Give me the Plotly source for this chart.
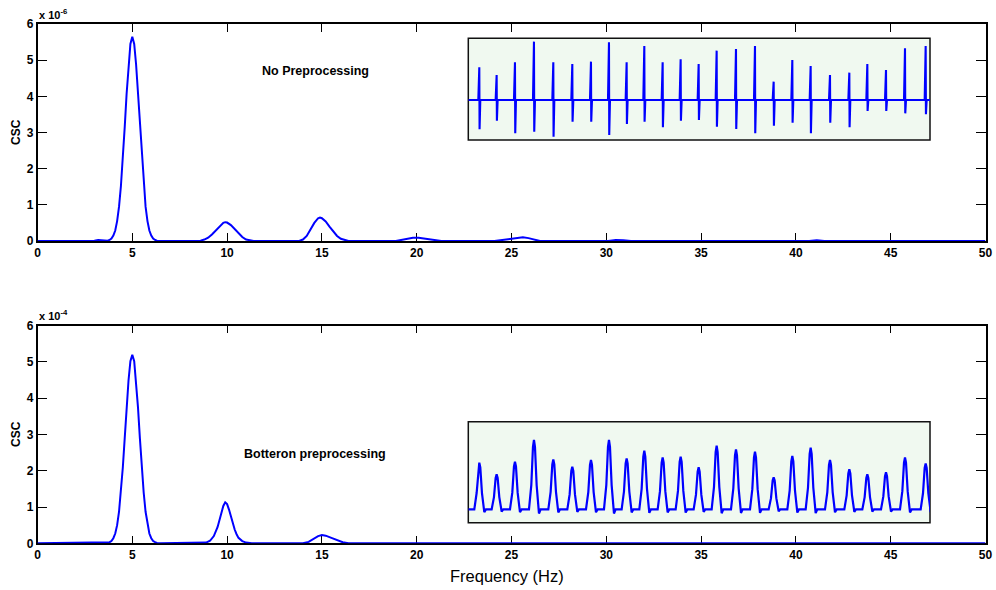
import plotly.graph_objects as go

# ---------------- data ----------------
# Top panel: CSC spectrum, no preprocessing (units of 1e-6)
freq_top = [0, 2.8, 3.0, 3.2, 3.4, 3.6, 3.7, 3.8, 3.9, 4.0, 4.1, 4.2, 4.3, 4.4, 4.5, 4.6, 4.7, 4.8, 4.9,
            5.0, 5.1, 5.2, 5.3, 5.4, 5.5, 5.6, 5.7, 5.8, 5.9, 6.0, 6.1, 6.2, 6.3, 6.5,
            8.4, 8.6, 8.8, 9.0, 9.2, 9.4, 9.6, 9.8, 9.9, 10.0, 10.2, 10.4, 10.6, 10.8, 11.0, 11.2, 11.4,
            13.8, 14.0, 14.2, 14.4, 14.6, 14.8, 14.9, 15.0, 15.2, 15.4, 15.6, 15.8, 16.0, 16.2, 16.4,
            18.9, 19.2, 19.5, 19.8, 20.1, 20.4, 20.7, 21.0, 21.3,
            24.1, 24.5, 24.9, 25.3, 25.6, 25.9, 26.2, 26.5,
            30.1, 30.5, 30.9, 31.3,
            40.7, 41.1, 41.5, 50]
csc_top = [0, 0, 0.01, 0.03, 0.02, 0.0, 0.01, 0.03, 0.07, 0.15, 0.29, 0.55, 0.95, 1.52, 2.27, 3.15, 4.07, 4.88, 5.45,
           5.65, 5.45, 4.88, 4.07, 3.15, 2.27, 1.52, 0.95, 0.55, 0.29, 0.15, 0.07, 0.03, 0.01, 0,
           0, 0.01, 0.04, 0.09, 0.18, 0.29, 0.41, 0.50, 0.52, 0.51, 0.44, 0.33, 0.21, 0.11, 0.04, 0.01, 0,
           0, 0.04, 0.14, 0.32, 0.50, 0.63, 0.65, 0.63, 0.54, 0.40, 0.26, 0.14, 0.06, 0.02, 0,
           0, 0.03, 0.07, 0.09, 0.09, 0.07, 0.04, 0.02, 0,
           0, 0.03, 0.06, 0.09, 0.10, 0.08, 0.03, 0,
           0, 0.03, 0.02, 0,
           0, 0.02, 0, 0]

# Bottom panel: CSC spectrum, Botteron preprocessing (units of 1e-4)
freq_bot = [0, 3.7, 3.8, 3.9, 4.0, 4.1, 4.2, 4.3, 4.4, 4.5, 4.6, 4.7, 4.8, 4.9,
            5.0, 5.1, 5.2, 5.3, 5.4, 5.5, 5.6, 5.7, 5.8, 5.9, 6.0, 6.1, 6.2, 6.3, 6.5,
            8.7, 8.9, 9.1, 9.3, 9.5, 9.6, 9.7, 9.8, 9.9, 10.0, 10.1, 10.2, 10.3, 10.4, 10.5, 10.6, 10.8, 11.0, 11.3,
            14.0, 14.3, 14.6, 14.8, 15.0, 15.2, 15.5, 15.8, 16.1, 16.4, 50]
csc_bot = [0, 0.01, 0.03, 0.06, 0.14, 0.27, 0.50, 0.87, 1.40, 2.09, 2.90, 3.75, 4.49, 5.02,
           5.20, 5.02, 4.49, 3.75, 2.90, 2.09, 1.40, 0.87, 0.50, 0.27, 0.14, 0.06, 0.03, 0.01, 0,
           0, 0.02, 0.07, 0.20, 0.45, 0.64, 0.85, 1.03, 1.13, 1.08, 0.93, 0.74, 0.55, 0.38, 0.25, 0.15, 0.06, 0.02, 0,
           0, 0.04, 0.13, 0.20, 0.23, 0.21, 0.15, 0.08, 0.03, 0, 0]

# Inset (top): raw electrogram spikes — time, positive and negative deflections
spike_t = [0.58, 1.10, 1.65, 2.22, 2.80, 3.37, 3.93, 4.47, 5.00, 5.53, 6.08, 6.62, 7.16,
           7.70, 8.28, 8.85, 9.41, 9.97, 10.52, 11.10, 11.68, 12.22, 12.78, 13.35, 13.97]
spike_up = [0.98, 0.75, 1.13, 1.75, 1.13, 1.08, 1.15, 1.73, 1.13, 1.62, 1.13, 1.22, 1.08,
            1.48, 1.53, 1.62, 0.55, 1.20, 1.02, 0.75, 0.82, 1.08, 0.90, 1.55, 1.62]
spike_down = [-0.88, -0.62, -1.00, -0.95, -1.10, -0.65, -0.65, -1.05, -0.72, -0.65, -0.82, -0.62, -0.60,
              -0.80, -0.87, -1.00, -0.77, -0.68, -1.00, -0.68, -0.82, -0.33, -0.33, -0.40, -0.43]

# Inset (bottom): preprocessed signal peaks — time and height
peak_t = spike_t
peak_h = [1.40, 1.05, 1.43, 2.08, 1.50, 1.28, 1.48, 2.08, 1.53, 1.76, 1.56, 1.58, 1.26,
          1.91, 1.80, 1.73, 0.96, 1.60, 1.85, 1.48, 1.20, 1.05, 1.11, 1.56, 1.38]

x_ticks = list(range(0, 51, 5))
y_ticks = list(range(0, 7))

# ---------------- build inset traces ----------------
top_x, top_y = [0.25], [0.0]
for t, u, d in zip(spike_t, spike_up, spike_down):
    top_x += [t - 0.03, t, t + 0.008, t + 0.03]
    top_y += [0.0, u, d, 0.0]
top_x.append(14.10)
top_y.append(0.0)

bot_x, bot_y = [0.25], [0.0]
shape_dx = [-0.15, -0.08, -0.03, 0.0, 0.03, 0.08, 0.15, 0.2]
shape_f = [0.0, 0.35, 0.9, 1.0, 0.9, 0.35, -0.06, 0.0]
for t, h in zip(peak_t, peak_h):
    for dx, f in zip(shape_dx, shape_f):
        bot_x.append(t + dx)
        bot_y.append(h * f)
bot_x.append(14.10)
bot_y.append(0.0)

# ---------------- figure ----------------
W, H = 996, 590
def fx(p):
    return p / W
def fy(p):
    return 1 - p / H

BLUE = "rgb(0,0,255)"
FONT = "Liberation Sans, Arial, Helvetica, sans-serif"

fig = go.Figure()
fig.add_trace(go.Scatter(x=freq_top, y=csc_top, mode="lines", line=dict(color=BLUE, width=2),
                         xaxis="x", yaxis="y", showlegend=False, hoverinfo="skip"))
fig.add_trace(go.Scatter(x=freq_bot, y=csc_bot, mode="lines", line=dict(color=BLUE, width=2),
                         xaxis="x2", yaxis="y2", showlegend=False, hoverinfo="skip"))
fig.add_trace(go.Scatter(x=top_x, y=top_y, mode="lines", line=dict(color=BLUE, width=2.1),
                         xaxis="x3", yaxis="y3", showlegend=False, hoverinfo="skip"))
fig.add_trace(go.Scatter(x=bot_x, y=bot_y, mode="lines", line=dict(color=BLUE, width=2.2),
                         xaxis="x4", yaxis="y4", showlegend=False, hoverinfo="skip"))

xdom = [fx(37.5), fx(985.5)]
tickfont = dict(family=FONT, size=12, color="black", weight="bold")
xstyle = dict(range=[0, 50], tickvals=x_ticks, ticks="inside", ticklen=8, tickwidth=1.2,
              tickcolor="black", showline=True, linewidth=1.5, linecolor="black", mirror="ticks",
              showgrid=False, zeroline=False, tickfont=tickfont, layer="below traces", domain=xdom,
              automargin=False)
ystyle = dict(range=[0, 6], tickvals=y_ticks, ticks="inside", ticklen=10, tickwidth=1.2,
              tickcolor="black", showline=True, linewidth=1.5, linecolor="black", mirror="ticks",
              showgrid=False, zeroline=False, tickfont=tickfont, layer="below traces",
              automargin=False)

inset_top = [fx(468.3), fx(930), fy(140), fy(38.3)]
inset_bot = [fx(468.3), fx(930), fy(522.7), fy(421.7)]

ann_bold = dict(family=FONT, color="black", weight="bold")

fig.update_layout(
    width=W, height=H,
    margin=dict(l=0, r=0, t=0, b=0, pad=0, autoexpand=False),
    paper_bgcolor="white", plot_bgcolor="rgba(0,0,0,0)",
    xaxis=dict(xstyle, anchor="y"),
    yaxis=dict(ystyle, anchor="x", domain=[fy(241), fy(24)]),
    xaxis2=dict(xstyle, anchor="y2"),
    yaxis2=dict(ystyle, anchor="x2", domain=[fy(543.3), fy(325.7)]),
    xaxis3=dict(range=[0.25, 14.10], domain=inset_top[:2], visible=False, anchor="y3"),
    yaxis3=dict(range=[-1.2, 1.85], domain=inset_top[2:], visible=False, anchor="x3"),
    xaxis4=dict(range=[0.25, 14.10], domain=inset_bot[:2], visible=False, anchor="y4"),
    yaxis4=dict(range=[-0.40, 2.63], domain=inset_bot[2:], visible=False, anchor="x4"),
    shapes=[
        dict(type="rect", xref="paper", yref="paper", x0=inset_top[0], x1=inset_top[1],
             y0=inset_top[2], y1=inset_top[3], fillcolor="#f0f9f0",
             line=dict(color="#111111", width=1.5), layer="below"),
        dict(type="rect", xref="paper", yref="paper", x0=inset_bot[0], x1=inset_bot[1],
             y0=inset_bot[2], y1=inset_bot[3], fillcolor="#f0f9f0",
             line=dict(color="#111111", width=1.5), layer="below"),
    ],
    annotations=[
        dict(text="No Preprocessing", x=fx(315), y=fy(71), xref="paper", yref="paper",
             xanchor="center", yanchor="middle", showarrow=False, font=dict(ann_bold, size=12.5)),
        dict(text="Botteron preprocessing", x=fx(315), y=fy(454), xref="paper", yref="paper",
             xanchor="center", yanchor="middle", showarrow=False, font=dict(ann_bold, size=12.5)),
        dict(text="CSC", x=fx(16), y=fy(132), xref="paper", yref="paper", textangle=-90,
             xanchor="center", yanchor="middle", showarrow=False, font=dict(ann_bold, size=12)),
        dict(text="CSC", x=fx(16), y=fy(434), xref="paper", yref="paper", textangle=-90,
             xanchor="center", yanchor="middle", showarrow=False, font=dict(ann_bold, size=12)),
        dict(text="Frequency (Hz)", x=fx(507), y=fy(576), xref="paper", yref="paper",
             xanchor="center", yanchor="middle", showarrow=False,
             font=dict(family=FONT, size=16.5, color="black")),
        dict(text="x 10<sup>-6</sup>", x=fx(37), y=fy(14), xref="paper", yref="paper",
             xanchor="left", yanchor="middle", showarrow=False, font=dict(ann_bold, size=11)),
        dict(text="x 10<sup>-4</sup>", x=fx(37), y=fy(315), xref="paper", yref="paper",
             xanchor="left", yanchor="middle", showarrow=False, font=dict(ann_bold, size=11)),
    ],
)

fig.write_html("out.html")
